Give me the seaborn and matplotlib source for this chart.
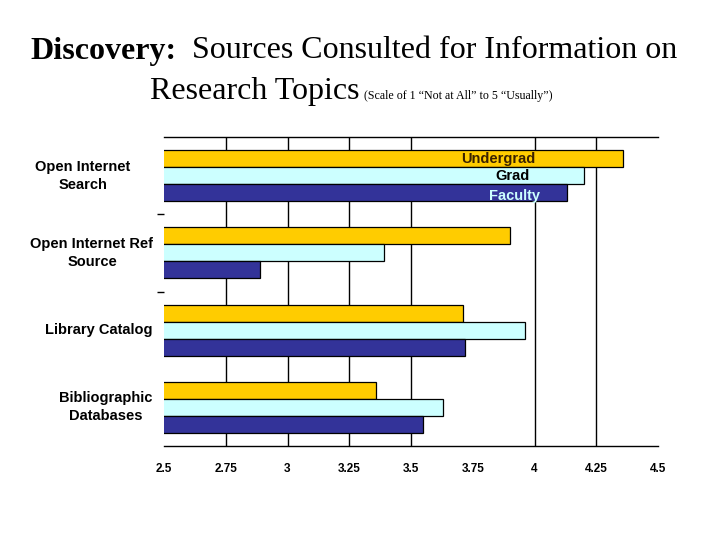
import matplotlib

matplotlib.use("Agg")
import matplotlib.pyplot as plt
import matplotlib.transforms as mtransforms
import pandas as pd
import seaborn as sns

sources = [
    "Open Internet\nSearch",
    "Open Internet Ref\nSource",
    "Library Catalog",
    "Bibliographic\nDatabases",
]
groups = ["Undergrad", "Grad", "Faculty"]
undergrad = [4.36, 3.90, 3.71, 3.36]
grad = [4.20, 3.39, 3.96, 3.63]
faculty = [4.13, 2.89, 3.72, 3.55]
ticks = [2.5, 2.75, 3, 3.25, 3.5, 3.75, 4, 4.25, 4.5]
tick_labels = ["2.5", "2.75", "3", "3.25", "3.5", "3.75", "4", "4.25", "4.5"]
grid_at = [2.75, 3, 3.25, 3.5, 4, 4.25]  # the 3.75 line is absent in the original

palette = {"Undergrad": "#FFCC00", "Grad": "#CCFFFF", "Faculty": "#333399"}
label_colors = {"Undergrad": "#3a2200", "Grad": "black", "Faculty": "#CCFFFF"}

df = pd.DataFrame(
    {
        "source": sources * 3,
        "group": [g for g in groups for _ in sources],
        "score": undergrad + grad + faculty,
    }
)

sns.set_style("white")
plt.rcParams["font.family"] = ["Liberation Sans", "DejaVu Sans"]
plt.rcParams["text.color"] = "black"
plt.rcParams["xtick.color"] = "black"

fig = plt.figure(figsize=(7.2, 5.4), dpi=100)
ax = fig.add_axes([164 / 720, 1 - 446 / 540, (658 - 164) / 720, (446 - 137) / 540])

sns.barplot(
    data=df, x="score", y="source", hue="group", order=sources, hue_order=groups,
    palette=palette, width=0.66, edgecolor="black", linewidth=0.9,
    saturation=1, legend=False, ax=ax,
)
ax.set_xlim(2.5, 4.5)
ax.set_ylim(len(sources) - 0.5, -0.5)

for v in grid_at:
    ax.axvline(v, color="black", lw=1, zorder=0)

ax.set_xticks(ticks)
ax.set_xticklabels(tick_labels, fontsize=8.5, fontweight="bold")
ax.tick_params(axis="x", length=0, pad=12)
ax.set_yticks(range(len(sources)))
ax.set_yticklabels([])
ax.set_yticks([0.5, 1.5], minor=True)
ax.tick_params(axis="y", which="major", left=False, length=0)
ax.tick_params(axis="y", which="minor", left=True, length=5, width=1,
               color="black", direction="out")
ax.set_xlabel("")
ax.set_ylabel("")

for side in ["left", "right"]:
    ax.spines[side].set_visible(False)
for side in ["top", "bottom"]:
    ax.spines[side].set_color("black")
    ax.spines[side].set_linewidth(1)

# category labels, centred blocks left of the plot
label_x = [83, 92, 99, 106]
trans = mtransforms.blended_transform_factory(fig.transFigure, ax.transData)
for i, (name, xc) in enumerate(zip(sources, label_x)):
    ax.text(xc / 720, i, name, transform=trans, ha="center", va="center",
            fontsize=10.5, fontweight="bold", multialignment="center",
            linespacing=1.35)

# series names written over the first group's bars
name_x = [3.855, 3.91, 3.92]
offsets = [-0.22, 0.0, 0.26]
for g, xv, off in zip(groups, name_x, offsets):
    ax.text(xv, off, g, ha="center", va="center", fontsize=10.5,
            fontweight="bold", color=label_colors[g])

# title
fig.canvas.draw()
r = fig.canvas.get_renderer()
serif = ["Liberation Serif", "DejaVu Serif"]
t1 = fig.text(0, 1 - 51 / 540, "Discovery:", family=serif, fontsize=23,
              fontweight="bold", va="center")
t2 = fig.text(0, 1 - 51 / 540, "  Sources Consulted for Information on", family=serif,
              fontsize=23, va="center")
w1 = t1.get_window_extent(r).width
w2 = t2.get_window_extent(r).width
x0 = (354 - (w1 + w2) / 2) / 720
t1.set_x(x0)
t2.set_x(x0 + w1 / 720)

t3 = fig.text(150 / 720, 1 - 99 / 540, "Research Topics", family=serif, fontsize=23,
              va="baseline")
w3 = t3.get_window_extent(r).width
fig.text((150 + w3 + 4) / 720, 1 - 99 / 540,
         "(Scale of 1 \u201cNot at All\u201d to 5 \u201cUsually\u201d)",
         family=serif, fontsize=8.6, va="baseline")

fig.savefig("out.png", dpi=100)
